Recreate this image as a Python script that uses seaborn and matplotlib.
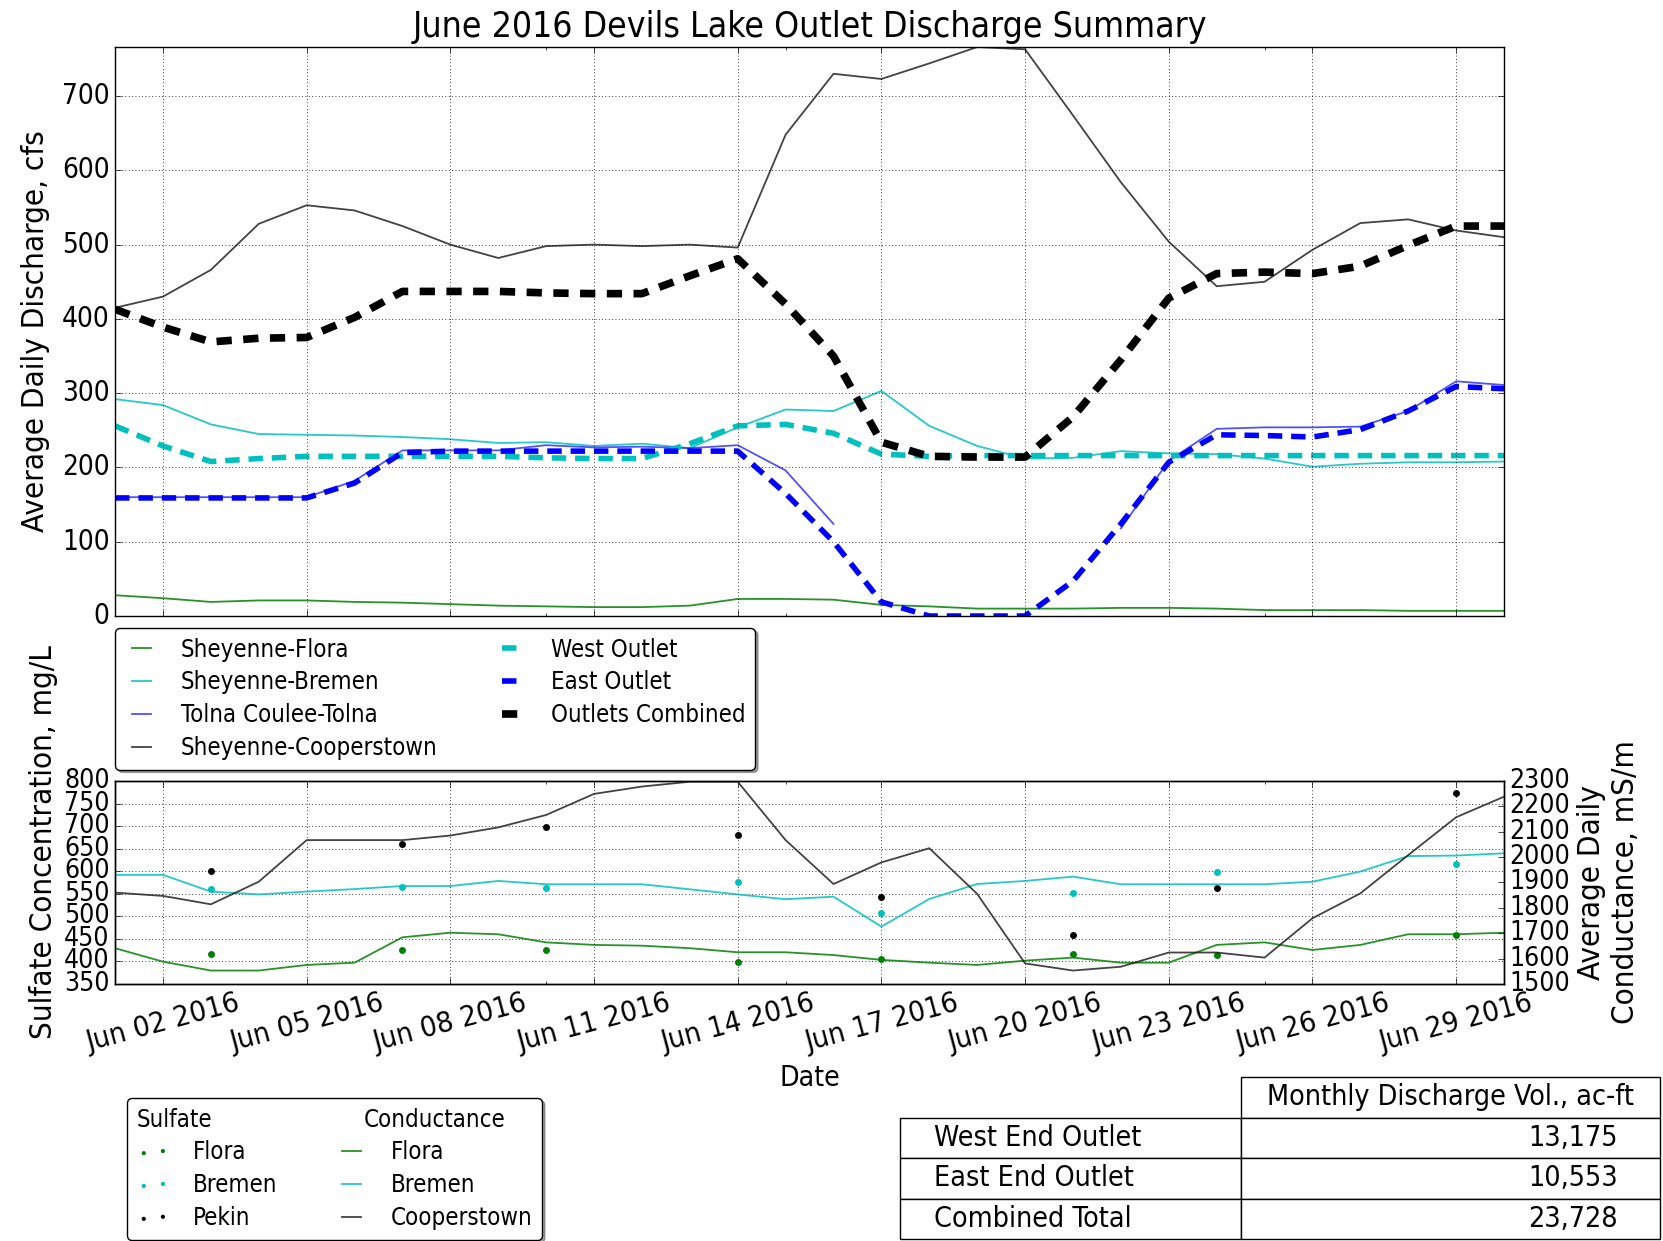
import numpy as np
import pandas as pd
import seaborn as sns
import matplotlib.pyplot as plt
import matplotlib.dates as mdates
from matplotlib.patches import Rectangle

# daily dates, June 2016
dates = pd.date_range('2016-06-01', '2016-06-30', freq='D')

# average daily discharge, cfs
flora_q = [28, 24, 19, 21, 21, 19, 18, 16, 14, 13, 12, 12, 14, 23, 23,
           22, 15, 13, 10, 10, 10, 11, 11, 10, 8, 8, 8, 7, 7, 7]
bremen_q = [292, 284, 258, 245, 244, 243, 241, 238, 233, 234, 229, 232, 226, 254, 278,
            276, 303, 256, 229, 212, 213, 222, 219, 218, 212, 201, 205, 207, 207, 208]
tolna_q = [160, 160, 160, 160, 160, 182, 223, 223, 223, 230, 227, 228, 226, 230, 196,
           124, np.nan, np.nan, np.nan, np.nan, np.nan, 118, 209, 252, 254, 254, 255, 276, 316, 311]
cooper_q = [415, 430, 466, 528, 553, 546, 525, 500, 482, 498, 500, 498, 500, 496, 648,
            730, 723, 744, 766, 763, 674, 584, 504, 444, 450, 493, 529, 534, 519, 510]
west_q = [256, 229, 208, 212, 215, 215, 215, 215, 215, 213, 212, 212, 232, 256, 258,
          246, 218, 215, 216, 216, 216, 216, 216, 216, 216, 216, 216, 216, 216, 216]
east_q = [159, 159, 159, 159, 159, 179, 220, 222, 222, 222, 222, 222, 222, 222, 165,
          100, 19, 0, 0, 0, 47, 124, 207, 244, 243, 241, 251, 276, 309, 306]
combined_q = [413, 389, 369, 374, 375, 402, 437, 437, 437, 435, 434, 434, 458, 481, 420,
              350, 234, 215, 214, 214, 268, 345, 428, 461, 463, 461, 471, 499, 525, 525]

# sulfate samples, mg/L
sample_dates = pd.to_datetime(['2016-06-03', '2016-06-07', '2016-06-10', '2016-06-14',
                               '2016-06-17', '2016-06-21', '2016-06-24', '2016-06-29'])
flora_so4 = [416, 425, 425, 398, 405, 416, 414, 459]
bremen_so4 = [560, 566, 563, 575, 507, 551, 598, 617]
pekin_so4 = [601, 660, 699, 680, 542, 458, 562, 773]

# average daily conductance, mS/m
flora_sc = [1641, 1588, 1553, 1553, 1575, 1584, 1684, 1702, 1696, 1664, 1654, 1651, 1641, 1625, 1625,
            1614, 1595, 1584, 1575, 1592, 1604, 1584, 1584, 1654, 1664, 1634, 1654, 1696, 1696, 1702]
bremen_sc = [1930, 1930, 1864, 1853, 1864, 1874, 1886, 1886, 1906, 1893, 1893, 1893, 1873, 1853, 1834,
             1844, 1726, 1835, 1894, 1906, 1923, 1893, 1893, 1893, 1893, 1903, 1943, 2004, 2006, 2015]
cooper_sc = [1860, 1847, 1814, 1903, 2067, 2067, 2067, 2085, 2117, 2166, 2249, 2278, 2297, 2297, 2067,
             1894, 1979, 2035, 1855, 1581, 1553, 1568, 1624, 1624, 1604, 1759, 1857, 2008, 2157, 2238]

# monthly volumes table
vol_rows = ['West End Outlet', 'East End Outlet', 'Combined Total']
vol_values = ['13,175', '10,553', '23,728']

plt.style.use('classic')
plt.rcParams.update({
    'figure.facecolor': 'white',
    'savefig.facecolor': 'white',
    'font.family': ['DejaVu Sans'],
    'font.stretch': 'condensed',
    'font.size': 17,
    'xtick.labelsize': 21,
    'ytick.labelsize': 20,
    'axes.labelsize': 22.5,
    'legend.fontsize': 17.2,
    'lines.scale_dashes': True,
    'lines.dash_capstyle': 'butt',
    'grid.linestyle': ':',
    'grid.color': 'k',
    'grid.linewidth': 0.6,
})

leg_kw = dict(loc='upper left', ncol=2, fancybox=True, shadow=True, borderaxespad=0,
              numpoints=2, handlelength=1.4, handletextpad=0.95, columnspacing=2.4,
              labelspacing=0.37)

fig = plt.figure(figsize=(16.63, 12.41), dpi=100)
ax_q = fig.add_axes([0.0692, 0.5036, 0.8352, 0.4585])
ax_so4 = fig.add_axes([0.0692, 0.2071, 0.8352, 0.1636], sharex=ax_q)
ax_sc = ax_so4.twinx()

# ---- discharge panel
thin = dict(lw=1.3, alpha=0.85)
h = []
sns.lineplot(x=dates, y=flora_q, ax=ax_q, color='g', **thin)
h.append(ax_q.lines[-1])
sns.lineplot(x=dates, y=bremen_q, ax=ax_q, color='c', **thin)
h.append(ax_q.lines[-1])
tolna = pd.DataFrame({'date': dates, 'q': tolna_q})
tolna['seg'] = tolna['q'].isna().cumsum()
tolna = tolna.dropna()
sns.lineplot(data=tolna, x='date', y='q', units='seg', estimator=None, ax=ax_q,
             color='#3333ff', **thin)
h.append(ax_q.lines[-1])
sns.lineplot(x=dates, y=cooper_q, ax=ax_q, color='#222222', **thin)
h.append(ax_q.lines[-1])
sns.lineplot(x=dates, y=west_q, ax=ax_q, color='c', lw=4, linestyle=(0, (2.6, 1.6)))
h.append(ax_q.lines[-1])
sns.lineplot(x=dates, y=east_q, ax=ax_q, color='b', lw=4, linestyle=(0, (2.6, 1.6)))
h.append(ax_q.lines[-1])
sns.lineplot(x=dates, y=combined_q, ax=ax_q, color='k', lw=5.5, linestyle=(0, (2.0, 1.5)))
h.append(ax_q.lines[-1])

ax_q.set_ylim(0, 766)
ax_q.set_yticks(range(0, 800, 100))
ax_q.set_ylabel('Average Daily Discharge, cfs')
ax_q.yaxis.set_label_coords(-0.047, 0.5)
ax_q.set_xlabel('')
ax_q.set_title('June 2016 Devils Lake Outlet Discharge Summary', fontsize=25.5, pad=7)
ax_q.grid(True)
ax_q.tick_params(labelbottom=False)

labels_q = ['Sheyenne-Flora', 'Sheyenne-Bremen', 'Tolna Coulee-Tolna', 'Sheyenne-Cooperstown',
            'West Outlet', 'East Outlet', 'Outlets Combined']
fig.legend(h, labels_q, bbox_to_anchor=(0.0692, 0.494), **leg_kw)

# ---- sulfate / conductance panel
hs = []
for vals, c in [(flora_so4, 'g'), (bremen_so4, 'c'), (pekin_so4, 'k')]:
    sns.scatterplot(x=sample_dates, y=vals, ax=ax_so4, color=c, s=25, linewidth=0, zorder=3)
    hs.append(ax_so4.collections[-1])
hc = []
for vals, c in [(flora_sc, 'g'), (bremen_sc, 'c'), (cooper_sc, '#222222')]:
    sns.lineplot(x=dates, y=vals, ax=ax_sc, color=c, **thin)
    hc.append(ax_sc.lines[-1])

ax_so4.set_ylim(350, 800)
ax_so4.set_yticks(range(350, 801, 50))
ax_sc.set_ylim(1500, 2300)
ax_sc.set_yticks(range(1500, 2301, 100))
ax_so4.tick_params(axis='y', labelsize=19)
ax_sc.tick_params(axis='y', labelsize=19)
ax_so4.grid(True)
ax_sc.grid(False)
ax_so4.set_ylabel('Sulfate Concentration, mg/L')
ax_so4.yaxis.set_label_coords(-0.041, 0.70)
ax_sc.set_ylabel('Average Daily\nConductance, mS/m')
ax_so4.set_xlabel('Date', fontsize=20.3)

ax_so4.set_xlim(dates[0], dates[-1])
ax_so4.xaxis.set_major_locator(mdates.DayLocator(bymonthday=range(2, 31, 3)))
ax_so4.xaxis.set_minor_locator(mdates.DayLocator(bymonthday=range(5, 31, 5)))
ax_so4.xaxis.set_major_formatter(mdates.DateFormatter('%b %d %Y'))
ax_so4.tick_params(axis='x', labelrotation=15)

blank = Rectangle((0, 0), 1, 1, visible=False)
leg2 = fig.legend([blank] + hs + [blank] + hc,
                  ['Sulfate', 'Flora', 'Bremen', 'Pekin', 'Conductance', 'Flora', 'Bremen', 'Cooperstown'],
                  bbox_to_anchor=(0.0764, 0.1152), scatterpoints=2, markerscale=0.6, **leg_kw)
# pull the two header rows left, over the handle space
for i, col in enumerate(leg2._legend_handle_box.get_children()):
    row0 = col.get_children()[0]
    row0.get_children()[0].set_width(0 if i == 0 else 4.6)
    if i == 0:
        row0.sep = 0

# ---- monthly volume table
tab_ax = fig.add_axes([900 / 1663, 2 / 1241, 760 / 1663, 162 / 1241])
tab_ax.axis('off')
tbl = tab_ax.table(cellText=[[r, v] for r, v in zip(vol_rows, vol_values)],
                   colLabels=['', 'Monthly Discharge Vol., ac-ft'],
                   colWidths=[341 / 760, 419 / 760], cellLoc='right', colLoc='center',
                   bbox=[0, 0, 1, 1])
tbl.auto_set_font_size(False)
tbl.set_fontsize(20.5)
tbl[(0, 0)].set_visible(False)
for r in range(1, len(vol_rows) + 1):
    cell = tbl[(r, 0)]
    cell._loc = 'left'
    cell.get_text().set_horizontalalignment('left')

fig.savefig('out.png', dpi=100)
